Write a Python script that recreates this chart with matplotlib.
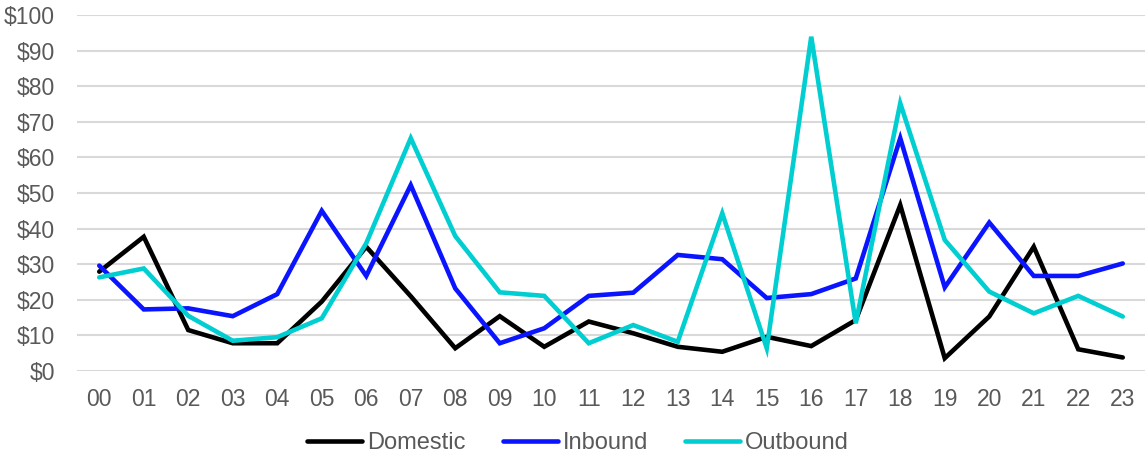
import matplotlib
matplotlib.use("Agg")
import matplotlib.pyplot as plt
from matplotlib.ticker import FuncFormatter

hours = [f"{h:02d}" for h in range(24)]

domestic = [27.9, 37.7, 11.5, 7.8, 7.8, 19.5, 34.9, 21.0, 6.4, 15.4, 6.8, 13.9,
            10.6, 6.8, 5.4, 9.6, 7.0, 14.3, 46.6, 3.6, 15.3, 34.9, 6.1, 3.8]
inbound = [29.6, 17.3, 17.6, 15.4, 21.6, 45.0, 26.7, 52.2, 23.2, 7.8, 12.0, 21.1,
           22.0, 32.6, 31.4, 20.5, 21.6, 26.0, 65.4, 23.5, 41.7, 26.7, 26.7, 30.2]
outbound = [26.3, 28.8, 15.5, 8.5, 9.5, 14.8, 35.9, 65.4, 37.9, 22.1, 21.1, 7.8,
            12.9, 8.2, 44.3, 6.4, 93.9, 13.4, 75.2, 36.8, 22.3, 16.2, 21.1, 15.3]

series = [("Domestic", domestic, "#000000"),
          ("Inbound", inbound, "#0A14FF"),
          ("Outbound", outbound, "#00CED1")]

plt.rcParams["font.family"] = ["Liberation Sans", "DejaVu Sans"]

fig = plt.figure(figsize=(11.45, 4.54), dpi=100)
ax = fig.add_axes([77 / 1145, 1 - 371 / 454, 1 - 77 / 1145, (371 - 15) / 454])

x = list(range(len(hours)))
for name, vals, color in series:
    ax.plot(x, vals, color=color, lw=3.3, label=name,
            solid_capstyle="round", solid_joinstyle="miter")

ax.set_xlim(-0.5, len(hours) - 0.5)
ax.set_ylim(0, 100)
ax.set_yticks(range(0, 101, 10))
ax.yaxis.set_major_formatter(FuncFormatter(lambda v, p: f"${v:.0f}"))
ax.set_xticks(x)
ax.set_xticklabels(hours)

ax.grid(axis="y", color="#D9D9D9", lw=1.5)
ax.set_axisbelow(True)
for s in ax.spines.values():
    s.set_visible(False)
ax.tick_params(axis="both", length=0, labelsize=16.5, labelcolor="#595959")
ax.tick_params(axis="y", pad=16)
ax.tick_params(axis="x", pad=12)

leg = fig.legend(loc="center", bbox_to_anchor=(578 / 1145, 1 - 443 / 454),
                 ncol=3, frameon=False, fontsize=17, handlelength=2.33,
                 handletextpad=0.21, columnspacing=1.57)
for t in leg.get_texts():
    t.set_color("#595959")

fig.savefig("out.png", dpi=100)
